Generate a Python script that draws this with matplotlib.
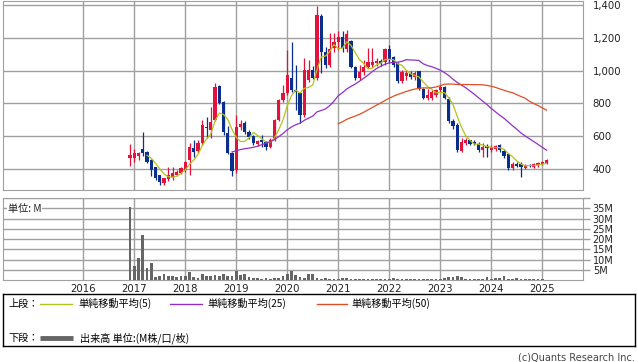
import matplotlib
matplotlib.use('Agg')
import matplotlib.pyplot as plt
import pandas as pd
import numpy as np

# monthly candles, Dec 2016 .. Feb 2025 (index 0 = 2016-12)
opens = [470, 465, 480, 520, 505, 455, 412, 362, 317, 337, 349, 364, 378, 394, 455, 526, 512, 557, 658, 638,
         700, 906, 811, 622, 500, 394, 658, 679, 628, 601, 553, 577, 567, 536, 577, 699, 821, 862, 953, 882,
         862, 730, 943, 1004, 953, 1335, 1115, 1035, 1140, 1175, 1205, 1130, 1180, 1025, 955, 990, 1025, 1035, 1045, 1058,
         1055, 1135, 1085, 1045, 935, 970, 985, 960, 995, 890, 835, 832, 850, 880, 898, 830, 695, 670, 512, 560,
         575, 565, 555, 518, 538, 515, 520, 545, 512, 492, 405, 432, 430, 405, 425, 415, 425, 432, 436]
highs = [550, 520, 505, 628, 510, 460, 415, 365, 345, 410, 415, 395, 410, 450, 560, 580, 575, 700, 719, 780,
         923, 910, 815, 665, 505, 730, 700, 690, 640, 610, 580, 608, 572, 590, 705, 825, 913, 1126, 1177, 1034,
         870, 1075, 1065, 1030, 1394, 1345, 1145, 1228, 1228, 1240, 1245, 1248, 1185, 1030, 1035, 1065, 1136, 1136, 1075, 1070,
         1140, 1155, 1090, 1050, 1005, 1005, 995, 1000, 1000, 895, 890, 880, 890, 915, 905, 840, 705, 680, 590, 590,
         580, 575, 565, 560, 550, 545, 548, 555, 520, 495, 440, 440, 440, 432, 432, 435, 440, 448, 462]
lows = [420, 440, 455, 480, 435, 360, 335, 305, 305, 325, 335, 355, 370, 380, 365, 475, 500, 545, 587, 590,
        690, 795, 610, 490, 360, 374, 640, 615, 585, 545, 540, 536, 516, 530, 570, 690, 810, 850, 870, 760,
        679, 720, 930, 950, 945, 985, 1015, 1025, 1115, 1125, 1115, 1115, 1015, 945, 945, 975, 1015, 1025, 1030, 1030,
        1035, 1045, 1020, 925, 925, 945, 950, 945, 885, 825, 820, 820, 840, 870, 825, 680, 645, 505, 505, 545,
        545, 545, 505, 475, 475, 505, 510, 505, 470, 395, 395, 410, 352, 400, 410, 405, 415, 425, 430]
closes = [485, 495, 495, 500, 445, 395, 343, 323, 343, 364, 374, 384, 404, 445, 536, 506, 557, 668, 648, 689,
          902, 801, 625, 496, 385, 658, 675, 628, 597, 557, 573, 567, 536, 577, 699, 821, 862, 974, 882, 870,
          730, 1004, 1004, 953, 1340, 1116, 1035, 1135, 1175, 1205, 1140, 1225, 1025, 955, 990, 1025, 1055, 1050, 1058, 1040,
          1135, 1065, 1035, 935, 990, 985, 960, 985, 890, 835, 850, 868, 880, 898, 832, 695, 665, 515, 565, 575,
          555, 550, 515, 535, 528, 535, 540, 515, 482, 405, 430, 420, 415, 425, 418, 428, 435, 440, 455]
# volume in millions
volumes = [35.6, 6.8, 10.8, 21.8, 5.7, 8.4, 1.6, 2.1, 2.9, 1.9, 1.9, 1.6, 1.9, 1.9, 3.9, 1.3, 1.0, 2.9, 1.9, 1.9,
           2.4, 1.9, 2.9, 1.9, 1.9, 4.4, 2.4, 2.9, 1.3, 1.0, 1.0, 0.6, 0.8, 0.6, 1.0, 1.0, 1.9, 2.9, 4.4, 2.4,
           1.3, 1.0, 2.9, 2.9, 1.0, 0.6, 0.8, 0.6, 0.5, 0.6, 1.0, 0.8, 0.6, 0.5, 0.5, 0.3, 0.6, 0.3, 0.3, 0.3,
           0.3, 0.6, 1.0, 0.6, 0.3, 0.3, 0.3, 0.3, 0.3, 0.5, 0.5, 0.5, 0.5, 0.6, 1.0, 1.6, 1.3, 1.9, 1.3, 0.6,
           0.5, 0.6, 0.6, 0.6, 1.3, 0.6, 1.0, 1.0, 2.1, 0.6, 0.6, 1.0, 0.6, 0.6, 0.3, 0.6, 0.5, 0.3, 0.1]
years = [2016, 2017, 2018, 2019, 2020, 2021, 2022, 2023, 2024, 2025]
price_ticks = [400, 600, 800, 1000, 1200, 1400]
vol_ticks = [5, 10, 15, 20, 25, 30, 35]

UP = '#e3123c'
DOWN = '#0a2e8c'
GRID = '#a0a0a0'
FONT = 'DejaVu Sans'
JP = ['Noto Sans CJK JP', 'DejaVu Sans']

df = pd.DataFrame({'o': opens, 'h': highs, 'l': lows, 'c': closes, 'v': volumes})
df['m'] = np.arange(len(df))
year_pos = [(y - 2017) * 12 + 1 for y in years]  # January of each year

W, H = 638, 362
fig = plt.figure(figsize=(W / 100, H / 100), dpi=100)


def box(x0, y0, x1, y1):
    return [x0 / W, 1 - y1 / H, (x1 - x0) / W, (y1 - y0) / H]


xlim = ((3 - 130) / 4.25, (583 - 130) / 4.25)

# price panel
ax = fig.add_axes(box(3, 1, 583, 190))
ax.set_xlim(*xlim)
ax.set_ylim(272, 1425)
ax.set_xticks(year_pos)
ax.set_yticks(price_ticks)
ax.set_yticklabels(['{:,}'.format(t) for t in price_ticks], fontsize=7.3, family=FONT, color='#222222')
ax.tick_params(axis='x', labelbottom=False, length=0)
ax.yaxis.tick_right()
ax.tick_params(axis='y', length=0, pad=7)
ax.grid(True, color=GRID, lw=1.0, zorder=0)
for s in ax.spines.values():
    s.set_color(GRID)

up = df[df.c >= df.o]
dn = df[df.c < df.o]
for d, col in ((up, UP), (dn, DOWN)):
    ax.vlines(d.m, d.l, d.h, color=col, lw=0.9, zorder=2)
    body = np.maximum((d.c - d.o).abs(), 5)
    ax.bar(d.m, body, bottom=np.minimum(d.o, d.c), width=0.72, color=col, lw=0, zorder=3)

ma_cols = {5: '#b3c31c', 25: '#9030c8', 50: '#dd4f25'}
for n, col in ma_cols.items():
    ax.plot(df.m, df.c.rolling(n).mean(), color=col, lw=0.9, zorder=4)

# volume panel
av = fig.add_axes(box(3, 198, 583, 280))
av.set_xlim(*xlim)
av.set_ylim(0, 40)
av.bar(df.m, df.v, width=0.62, color='#666666', lw=0, zorder=3)
av.set_yticks(vol_ticks + [40])
av.set_yticklabels(['{}M'.format(t) for t in vol_ticks] + [''], fontsize=7, family=FONT, color='#222222')
av.yaxis.tick_right()
av.tick_params(axis='y', length=5, width=1, color=GRID, pad=2)
av.set_xticks(year_pos)
av.set_xticklabels([str(y) for y in years], fontsize=7.3, family=FONT, color='#222222')
av.tick_params(axis='x', length=0, pad=3)
av.grid(True, color=GRID, lw=1.0, zorder=0)
for s in av.spines.values():
    s.set_color(GRID)
av.text(0.008, 0.93, '単位: M', transform=av.transAxes, fontsize=7.3, family=JP,
        va='top', ha='left', color='#222222', zorder=5,
        bbox=dict(facecolor='white', edgecolor='none', pad=0.5))

# legend box
lg = fig.add_axes(box(3, 294, 635, 346))
lg.set_xlim(3, 635)
lg.set_ylim(346, 294)
lg.set_xticks([])
lg.set_yticks([])
for s in lg.spines.values():
    s.set_color('black')
    s.set_linewidth(1)
lg.patch.set_alpha(0)

y1, y2 = 303.5, 338
lg.text(8, y1, '上段：', fontsize=7.3, family=JP, va='center')
lg.plot([40, 72], [y1, y1], color=ma_cols[5], lw=1)
lg.text(78, y1, '単純移動平均(5)', fontsize=7.3, family=JP, va='center')
lg.plot([170, 202], [y1, y1], color=ma_cols[25], lw=1)
lg.text(207, y1, '単純移動平均(25)', fontsize=7.3, family=JP, va='center')
lg.plot([317, 347], [y1, y1], color=ma_cols[50], lw=1)
lg.text(351, y1, '単純移動平均(50)', fontsize=7.3, family=JP, va='center')
lg.text(8, y2, '下段：', fontsize=7.3, family=JP, va='center')
lg.plot([40, 73], [y2, y2], color='#666666', lw=3.5, solid_capstyle='butt')
lg.text(80, y2, '出来高 単位:(M株/口/枚)', fontsize=7.3, family=JP, va='center')

fig.text(635 / W, 1 - 357 / H, '(c)Quants Research Inc.', fontsize=7, family=FONT,
         ha='right', va='center', color='#444444')

fig.savefig('out.png', dpi=100)
